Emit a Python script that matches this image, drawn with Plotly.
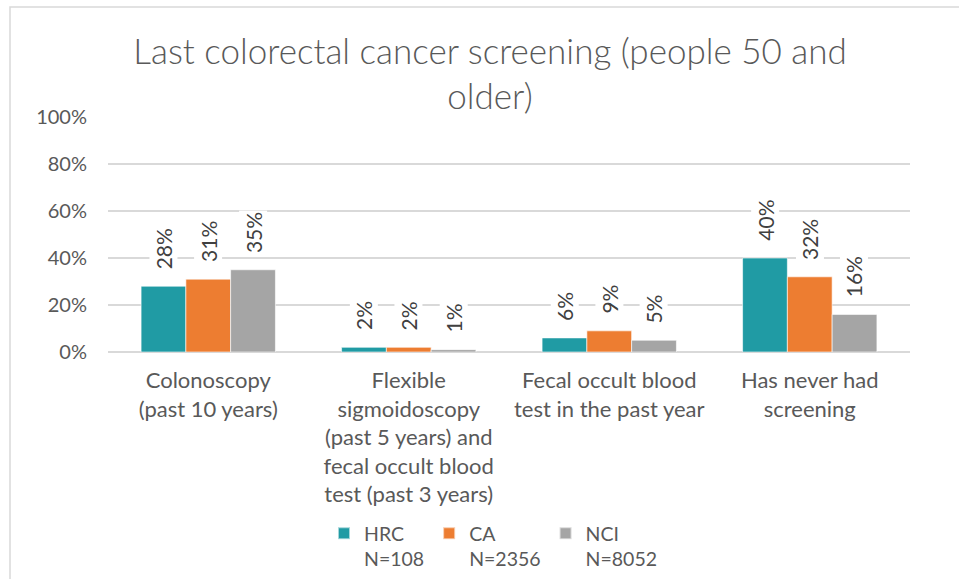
import plotly.graph_objects as go

# Screening categories (x axis) and the share of each population, in percent
categories = [
    "Colonoscopy<br>(past 10 years)",
    "Flexible<br>sigmoidoscopy<br>(past 5 years) and<br>fecal occult blood<br>test (past 3 years)",
    "Fecal occult blood<br>test in the past year",
    "Has never had<br>screening",
]
series_names = ["HRC<br>N=108", "CA<br>N=2356", "NCI<br>N=8052"]
hrc_values = [28, 2, 6, 40]
ca_values = [31, 2, 9, 32]
nci_values = [35, 1, 5, 16]
y_ticks = [0, 20, 40, 60, 80, 100]
y_tick_labels = ["0%", "20%", "40%", "60%", "80%", "100%"]

colors = ["#209BA4", "#ED7D31", "#A5A5A5"]
all_values = [hrc_values, ca_values, nci_values]

FONT = "Lato"
TEXT = "#595959"
W, H = 959, 579
L, R, T, B = 108, 49, 117, 227

fig = go.Figure()
for name, vals, col in zip(series_names, all_values, colors):
    fig.add_trace(go.Bar(
        name=name, x=categories, y=vals,
        marker=dict(color=col, line=dict(color="rgba(255,255,255,0.6)", width=1)),
    ))

# Rotated value labels above each bar, with a white backing over gridlines
bar_px = 44.6
offsets = [-bar_px, 0, bar_px]
annotations = []
for vals, dx in zip(all_values, offsets):
    for cat, v in zip(categories, vals):
        annotations.append(dict(
            x=cat, y=v, xref="x", yref="y", text=f"{v}%",
            textangle=-90, showarrow=False, xshift=dx, yshift=15,
            xanchor="center", yanchor="bottom",
            font=dict(family=FONT, size=21, color="#404040"),
            bgcolor="white", borderpad=1,
        ))

# Light frame around the chart area
pw, ph = W - L - R, H - T - B
shapes = [dict(
    type="rect", xref="paper", yref="paper",
    x0=(10 - L) / pw, x1=(W + 40 - L) / pw,
    y0=-(H + 40 - (H - B)) / ph, y1=1 + (T - 7) / ph,
    line=dict(color="#D9D9D9", width=1.5), fillcolor="rgba(0,0,0,0)", layer="below",
)]

fig.update_layout(
    width=W, height=H,
    margin=dict(l=L, r=R, t=T, b=B, autoexpand=False),
    paper_bgcolor="white", plot_bgcolor="white",
    barmode="group", bargap=0.33, bargroupgap=0,
    title=dict(
        text="Last colorectal cancer screening (people 50 and<br>older)",
        x=0.511, xanchor="center", y=0.89, yanchor="top", yref="container",
        font=dict(family=FONT, size=35, color=TEXT, weight=300),
    ),
    font=dict(family=FONT, size=20, color=TEXT),
    xaxis=dict(
        showgrid=False, showline=False, ticks="", automargin=False,
        tickfont=dict(family=FONT, size=22, color=TEXT),
        tickangle=0, ticklabelstandoff=13,
    ),
    yaxis=dict(
        range=[0, 100], tickvals=y_ticks, ticktext=y_tick_labels,
        showgrid=True, gridcolor="#D9D9D9", gridwidth=1.5,
        zeroline=True, zerolinecolor="#D9D9D9", zerolinewidth=1.5,
        showline=False, ticks="", automargin=False,
        tickfont=dict(family=FONT, size=20, color=TEXT),
        ticklabelstandoff=20,
    ),
    legend=dict(
        orientation="h", x=(324 - L) / pw, xanchor="left",
        y=-(514 - (H - B)) / ph, yanchor="top",
        valign="top", traceorder="normal",
        font=dict(family=FONT, size=19.5, color=TEXT),
        itemwidth=30, bgcolor="rgba(0,0,0,0)",
        tracegroupgap=0, itemsizing="constant",
    ),
    annotations=annotations,
    shapes=shapes,
)

fig.write_html("out.html")
